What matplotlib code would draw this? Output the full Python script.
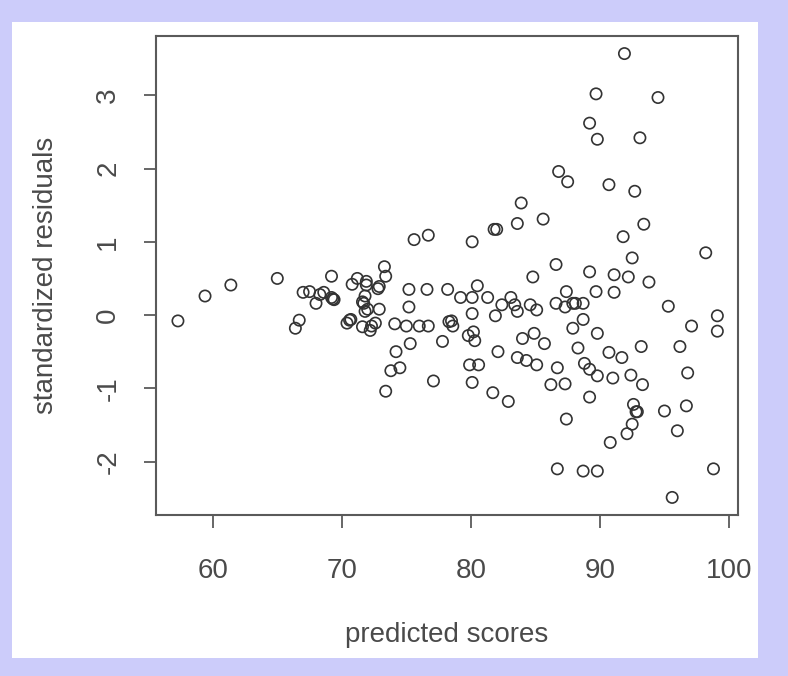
import matplotlib
matplotlib.use("Agg")
import matplotlib.pyplot as plt
import matplotlib.patches as mpatches

# predicted scores (x) and standardized residuals (y)
predicted = [
    57.3, 59.4, 61.4, 65.0, 66.4, 66.7, 67.0, 67.5, 68.0, 68.3,
    68.6, 69.2, 69.3, 69.2, 70.4, 70.7, 70.8, 71.2, 71.6, 71.6,
    71.8, 71.9, 72.0, 72.2, 72.3, 72.6, 72.8, 72.9, 73.3, 73.4,
    73.4, 74.1, 74.2, 73.8, 74.5, 75.2, 75.2, 75.0, 75.3, 75.6,
    76.0, 76.6, 76.7, 76.7, 77.1, 77.8, 78.2, 78.3, 78.5, 78.6,
    79.2, 79.8, 79.9, 80.1, 80.1, 80.1, 80.1, 80.2, 80.3, 80.5,
    80.6, 81.3, 81.7, 81.8, 82.0, 81.9, 82.1, 82.4, 82.9, 83.1,
    83.4, 83.6, 83.6, 83.6, 83.9, 84.0, 84.3, 84.6, 84.8, 84.9,
    85.1, 85.1, 85.6, 85.7, 86.2, 86.6, 86.6, 86.7, 86.7, 86.8,
    87.3, 87.5, 87.3, 87.4, 87.4, 87.9, 87.9, 88.1, 88.3, 88.7,
    88.7, 88.7, 88.8, 89.2, 89.2, 89.2, 89.2, 89.7, 89.7, 89.8,
    89.8, 89.8, 89.8, 90.7, 90.7, 90.8, 91.0, 91.1, 91.1, 91.7,
    91.8, 91.9, 92.1, 92.2, 92.4, 92.5, 92.5, 92.6, 92.7, 92.8,
    92.9, 93.1, 93.2, 93.3, 93.4, 93.8, 94.5, 95.0, 95.3, 95.6,
    96.0, 96.2, 96.7, 96.8, 97.1, 98.2, 98.8, 99.1, 99.1, 71.7,
    71.9, 72.9, 71.8, 69.4, 70.6,
]
residuals = [
    -0.08, 0.26, 0.41, 0.50, -0.18, -0.07, 0.31, 0.32, 0.16, 0.28,
    0.31, 0.24, 0.22, 0.53, -0.11, -0.06, 0.42, 0.50, 0.18, -0.16,
    0.26, 0.46, 0.08, -0.21, -0.15, -0.11, 0.36, 0.08, 0.66, 0.53,
    -1.04, -0.12, -0.50, -0.76, -0.72, 0.35, 0.11, -0.15, -0.39, 1.03,
    -0.15, 0.35, 1.09, -0.15, -0.90, -0.36, 0.35, -0.09, -0.08, -0.15,
    0.24, -0.28, -0.68, 0.24, 1.00, -0.92, 0.02, -0.23, -0.35, 0.40,
    -0.68, 0.24, -1.06, 1.17, 1.17, -0.01, -0.50, 0.14, -1.18, 0.24,
    0.14, 1.25, -0.58, 0.05, 1.53, -0.32, -0.62, 0.14, 0.52, -0.25,
    0.07, -0.68, 1.31, -0.39, -0.95, 0.69, 0.16, -0.72, -2.10, 1.96,
    -0.94, 1.82, 0.11, 0.32, -1.42, 0.16, -0.18, 0.16, -0.45, 0.16,
    -0.06, -2.13, -0.66, 2.62, 0.59, -0.74, -1.12, 3.02, 0.32, -2.13,
    2.40, -0.25, -0.83, 1.78, -0.51, -1.74, -0.86, 0.55, 0.31, -0.58,
    1.07, 3.57, -1.62, 0.52, -0.82, 0.78, -1.49, -1.22, 1.69, -1.32,
    -1.32, 2.42, -0.43, -0.95, 1.24, 0.45, 2.97, -1.31, 0.12, -2.49,
    -1.58, -0.43, -1.24, -0.79, -0.15, 0.85, -2.10, -0.01, -0.22, 0.16,
    0.41, 0.39, 0.05, 0.21, -0.07,
]

x_ticks = [60, 70, 80, 90, 100]
y_ticks = [-2, -1, 0, 1, 2, 3]

TEXT_GREY = "#4a4a4a"
FRAME_GREY = "#5a5a5a"

plt.rcParams["font.family"] = ["Liberation Sans", "DejaVu Sans"]

fig = plt.figure(figsize=(7.88, 6.76), dpi=100, facecolor="#CCCCFA")

# white panel inside the lavender border, kept behind the axes
fig.patches.append(mpatches.Rectangle(
    (12 / 788, 1 - 658 / 676), (758 - 12) / 788, (658 - 22) / 676,
    transform=fig.transFigure, facecolor="white", edgecolor="none", zorder=-10,
))

ax = fig.add_axes([156 / 788, 1 - 515 / 676, (738 - 156) / 788, (515 - 36) / 676])
ax.set_facecolor("white")
ax.set_zorder(5)

ax.scatter(predicted, residuals, s=66, facecolors="none",
           edgecolors="#333333", linewidths=1.2)

ax.set_xlim(55.6, 100.7)
ax.set_ylim(-2.73, 3.81)
ax.set_xticks(x_ticks)
ax.set_yticks(y_ticks)
ax.set_yticklabels([str(v) for v in y_ticks], rotation=90, va="center")

for spine in ax.spines.values():
    spine.set_color(FRAME_GREY)
    spine.set_linewidth(1.5)

ax.tick_params(axis="both", direction="out", length=9, width=1.3,
               color=FRAME_GREY, labelsize=20, labelcolor=TEXT_GREY)
ax.tick_params(axis="x", pad=22)
ax.tick_params(axis="y", pad=16)

ax.set_xlabel("predicted scores", fontsize=20, color=TEXT_GREY, labelpad=27)
ax.set_ylabel("standardized residuals", fontsize=20, color=TEXT_GREY, labelpad=26)

fig.savefig("out.png", dpi=100, facecolor=fig.get_facecolor())
